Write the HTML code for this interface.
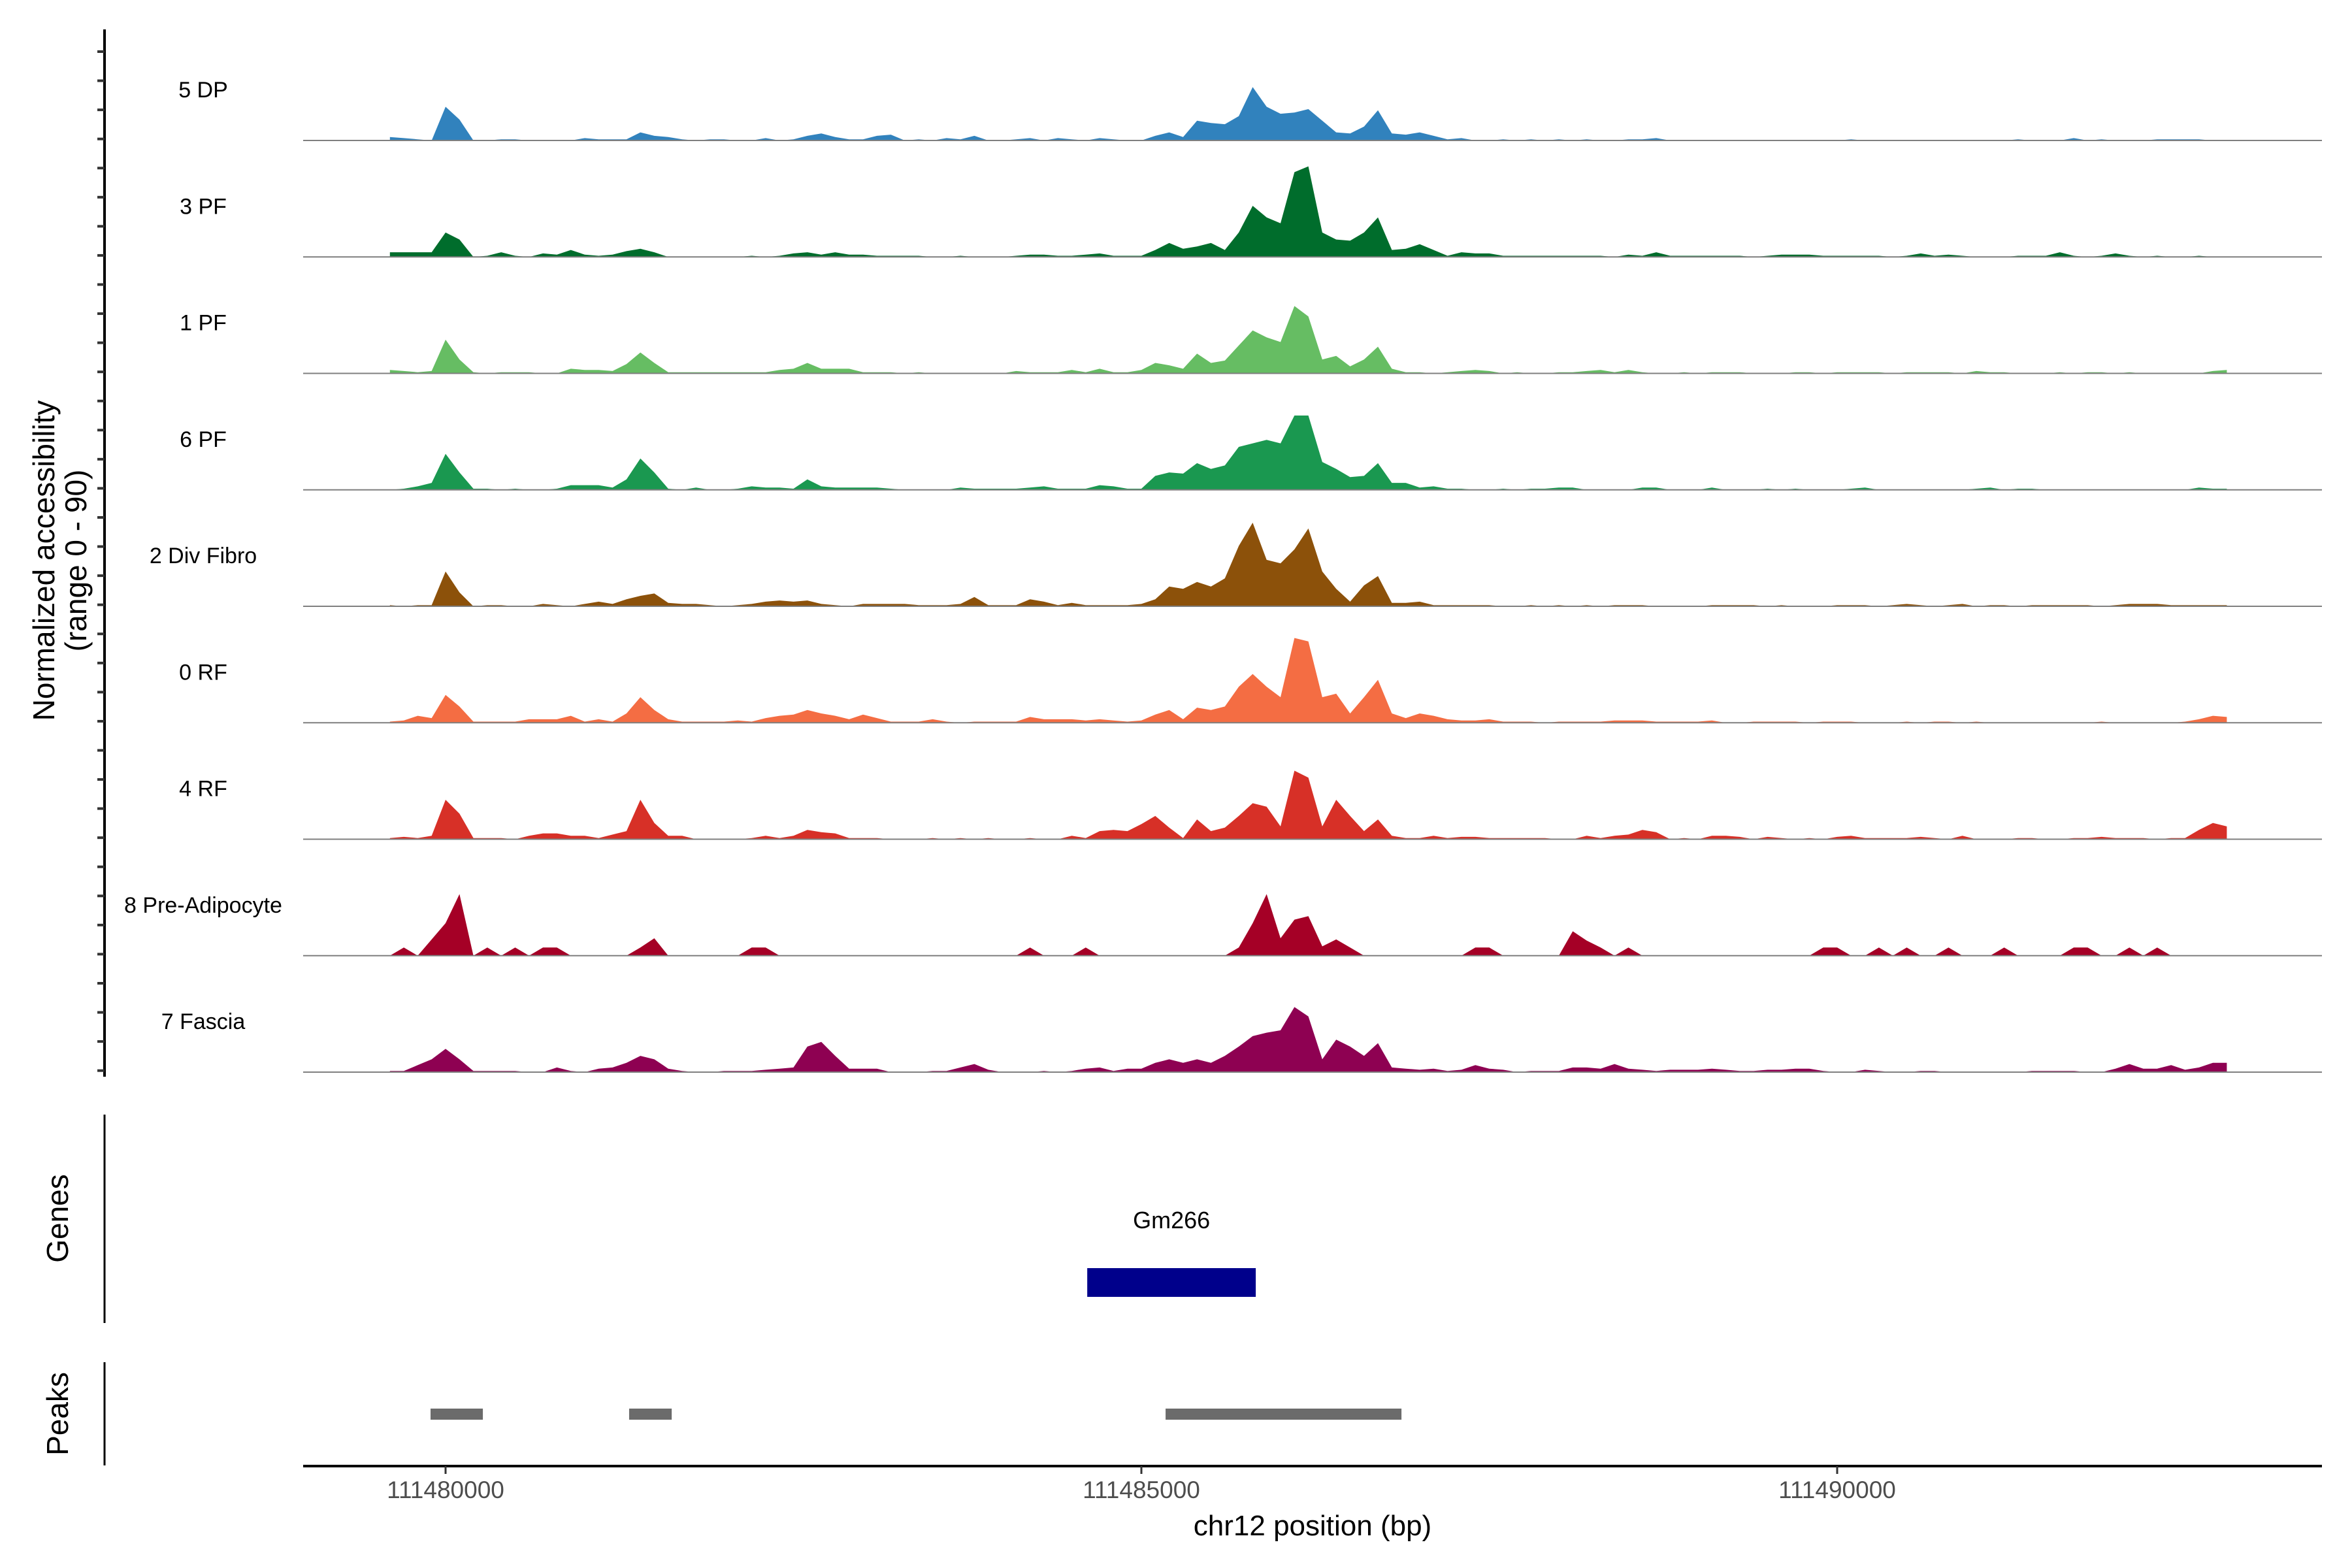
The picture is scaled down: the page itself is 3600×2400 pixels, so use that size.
<!DOCTYPE html>
<html><head><meta charset="utf-8"><style>
html,body{margin:0;padding:0;background:#fff;}
svg{display:block;font-family:"Liberation Sans",Arial,sans-serif;}
</style></head><body>
<svg id="chart" xmlns="http://www.w3.org/2000/svg" width="3600" height="2400" viewBox="0 0 3600 2400">
<rect width="3600" height="2400" fill="#fff"/>
<g id="tracks"></g>
<g id="yaxis"></g>
<text transform="translate(83,858) rotate(-90)" text-anchor="middle" font-size="46" fill="#000">Normalized accessibility</text>
<text transform="translate(132,858) rotate(-90)" text-anchor="middle" font-size="46" fill="#000">(range 0 - 90)</text>
<line x1="160" y1="1706" x2="160" y2="2025" stroke="#000" stroke-width="3"/>
<text transform="translate(104,1865) rotate(-90)" text-anchor="middle" font-size="46" fill="#000">Genes</text>
<line x1="160" y1="2085" x2="160" y2="2243" stroke="#000" stroke-width="3"/>
<text transform="translate(104,2164) rotate(-90)" text-anchor="middle" font-size="46" fill="#000">Peaks</text>
<g id="genes"></g>
<g id="peaks"></g>
<g id="xaxis"></g>
<text x="2009" y="2350" text-anchor="middle" font-size="44" fill="#000">chr12 position (bp)</text>
</svg>
<script>
const binStart = 111479600;
const binSize = 100;
const trackNames = ["5 DP","3 PF","1 PF","6 PF","2 Div Fibro","0 RF","4 RF","8 Pre-Adipocyte","7 Fascia"];
const trackColors = ["#3182bd","#006d2c","#66bd63","#1a9850","#8c510a","#f46d43","#d73027","#a50026","#8e0152"];
const vals5DP = [3,2,1,0,29,18,0,0,1,1,0,0,0,0,2,1,1,1,7,4,3,1,0,1,1,0,0,2,0,1,4,6,3,1,1,4,5,0,1,0,2,1,4,0,0,1,2,0,2,1,0,2,1,0,0,4,7,3,17,15,14,21,46,29,23,24,27,17,7,6,12,26,6,5,7,4,1,2,0,0,1,0,1,0,1,0,1,0,0,1,1,2,0,0,0,0,0,0,0,0,0,0,0,0,0,1,0,0,0,0,0,0,0,0,0,0,0,1,0,0,0,2,0,1,0,0,0,1,1,1,1,0];
const vals3PF = [4,4,4,4,21,15,0,1,4,1,0,3,2,6,2,1,2,5,7,4,0,0,0,0,0,0,1,0,1,3,4,2,4,2,2,1,1,1,1,0,0,1,0,0,0,1,2,2,1,1,2,3,1,1,1,6,12,7,9,12,6,21,44,34,29,73,78,21,15,14,21,34,6,7,11,6,1,4,3,3,1,1,1,1,1,1,1,1,0,2,1,4,1,1,1,1,1,1,0,1,2,2,2,1,1,1,1,1,0,1,3,1,2,1,0,0,0,1,1,1,4,1,0,1,3,1,0,1,0,0,1,0,0];
const vals1PF = [3,2,1,2,29,12,1,0,1,1,1,0,0,4,3,3,2,8,18,9,1,1,1,1,1,1,1,1,3,4,9,4,4,4,1,1,1,0,1,0,0,0,0,0,0,2,1,1,1,3,1,4,1,1,3,9,7,4,17,9,11,24,37,31,27,58,49,12,15,6,12,23,4,1,1,0,1,2,3,2,0,1,0,0,1,1,2,3,1,3,1,0,0,1,0,1,1,1,0,0,0,1,1,0,1,1,1,1,0,1,1,1,1,0,2,1,1,0,0,0,1,0,1,1,0,1,0,0,0,0,0,2,3];
const vals6PF = [0,1,3,6,31,15,1,1,0,1,0,0,1,4,4,4,2,9,27,15,1,0,2,0,0,1,3,2,2,1,9,3,2,2,2,2,1,0,0,0,0,2,1,1,1,1,2,3,1,1,1,4,3,1,1,12,15,14,23,18,21,37,40,43,40,64,64,24,18,11,12,23,6,6,2,3,1,1,0,0,1,0,1,1,2,2,0,0,0,0,2,2,0,0,0,2,0,0,0,1,0,1,0,0,0,1,2,0,0,0,0,0,0,0,1,2,0,1,1,0,0,0,0,0,0,0,0,0,0,0,2,1,1];
const vals2Div = [1,0,1,1,30,12,0,1,1,0,0,2,1,0,2,4,2,6,9,11,3,2,2,1,0,1,2,4,5,4,5,2,1,0,2,2,2,2,1,1,1,2,8,1,1,1,6,4,1,3,1,1,1,1,2,6,17,15,21,17,24,52,72,40,37,49,67,30,15,4,18,26,3,3,4,1,1,1,1,1,0,0,1,0,1,0,1,0,1,1,1,0,0,0,0,1,1,1,1,0,1,0,0,0,1,1,1,0,1,2,1,0,1,2,0,1,1,0,1,1,1,1,1,0,1,2,2,2,1,1,1,1,1];
const vals0RF = [1,2,6,4,24,14,1,1,1,1,3,3,3,6,1,3,1,8,22,11,3,1,1,1,1,2,1,4,6,7,11,8,6,3,7,4,1,1,1,3,1,0,1,1,1,1,5,3,3,3,2,3,2,1,2,7,11,3,13,11,14,31,42,31,22,73,70,22,25,8,22,37,8,4,8,6,3,2,2,3,1,1,1,0,1,1,1,1,2,2,2,1,1,1,1,2,0,0,1,1,1,1,0,1,1,1,0,0,0,1,0,1,1,0,1,0,0,0,0,0,0,0,0,1,0,0,0,0,0,1,3,6,5];
const vals4RF = [1,2,1,3,34,22,1,1,1,0,3,5,5,3,3,1,4,7,34,14,3,3,0,0,0,0,1,3,1,3,8,6,5,1,1,1,0,0,0,1,0,1,0,1,0,0,1,0,0,3,1,7,8,7,13,20,10,1,17,7,10,20,31,28,11,59,53,11,34,20,7,17,3,1,1,3,1,2,2,1,1,1,1,1,0,0,3,1,3,4,8,6,0,1,0,3,3,2,0,2,1,0,1,0,2,3,1,1,1,1,2,1,0,3,0,0,0,1,1,0,0,1,1,2,1,1,1,0,1,1,8,14,11];
const valsPreAd = [0,7,0,14,28,53,0,7,0,7,0,7,7,0,0,0,0,0,7,15,0,0,0,0,0,0,7,7,0,0,0,0,0,0,0,0,0,0,0,0,0,0,0,0,0,0,7,0,0,0,7,0,0,0,0,0,0,0,0,0,0,7,28,53,15,31,34,8,14,7,0,0,0,0,0,0,0,0,7,7,0,0,0,0,0,21,13,7,0,7,0,0,0,0,0,0,0,0,0,0,0,0,0,7,7,0,0,7,0,7,0,0,7,0,0,0,7,0,0,0,0,7,7,0,0,7,0,7,0,0,0,0,0];
const valsFascia = [1,1,6,11,20,11,1,1,1,1,0,0,4,1,0,3,4,8,14,11,3,1,0,0,1,1,1,2,3,4,22,26,14,3,3,3,0,0,0,1,1,4,7,2,0,0,0,1,0,1,3,4,1,3,3,8,11,8,11,8,14,22,31,34,36,56,48,11,28,22,14,25,4,3,2,3,1,2,6,3,2,0,1,1,1,4,4,3,7,3,2,1,2,2,2,3,2,1,1,2,2,3,3,1,0,0,2,1,0,0,1,1,0,0,0,0,0,0,1,1,1,1,0,0,3,7,3,3,6,2,4,8,8];
const trackValues = [vals5DP,vals3PF,vals1PF,vals6PF,vals2Div,vals0RF,vals4RF,valsPreAd,valsFascia];
const xTicks = [111480000,111485000,111490000];
const xTickLabels = ["111480000","111485000","111490000"];
const geneStarts = [111484611];
const geneEnds = [111485822];
const geneNames = ["Gm266"];
const peakStarts = [111479892,111481319,111485174];
const peakEnds = [111480268,111481625,111486869];

const NS = "http://www.w3.org/2000/svg";
function xScale(bp){ return 682 + (bp - 111480000) * (1065/5000); }
const trackTop0 = 215, trackStep = 178.25, pxPerUnit = 160/90;
const panelLeft = 464, panelRight = 3554;
function yScale(v, t){ return trackTop0 + t*trackStep - v*pxPerUnit; }
function mk(tag, attrs, parent){ const e=document.createElementNS(NS,tag); for(const k in attrs) e.setAttribute(k,attrs[k]); parent.appendChild(e); return e; }

const tracks = document.getElementById('tracks');
trackValues.forEach((vals,t)=>{
  const base = yScale(0,t);
  let d = "M" + xScale(binStart).toFixed(1) + "," + base.toFixed(1);
  vals.forEach((v,i)=>{ d += " L" + xScale(binStart + i*binSize).toFixed(1) + "," + yScale(v,t).toFixed(1); });
  d += " L" + xScale(binStart + (vals.length-1)*binSize).toFixed(1) + "," + base.toFixed(1) + " Z";
  const p = mk('path',{d:d, fill:trackColors[t]}, tracks);
  
  
  const bl = mk('line',{x1:panelLeft,x2:panelRight,y1:base,y2:base,stroke:"#7f7f7f","stroke-width":2}, tracks);
  
  
  const lab = mk('text',{x:311,y:base-66,"text-anchor":"middle","font-size":34,fill:"#000"}, tracks);
  lab.textContent = trackNames[t];
  
  
});

const yaxis = document.getElementById('yaxis');
const ya = mk('line',{x1:160,x2:160,y1:45,y2:1648,stroke:"#000","stroke-width":4}, yaxis);


for(let k=0;k<36;k++){
  const y = 79 + k*trackStep/4;
  const tk = mk('line',{x1:149,x2:160,y1:y,y2:y,stroke:"#333","stroke-width":4}, yaxis);
  
  
}

const genes = document.getElementById('genes');
geneStarts.forEach((s,i)=>{
  const r = mk('rect',{x:xScale(s),y:1941,width:xScale(geneEnds[i])-xScale(s),height:44,fill:"#00008b"}, genes);
  
  
  const tx = mk('text',{x:(xScale(s)+xScale(geneEnds[i]))/2,y:1880,"text-anchor":"middle","font-size":36,fill:"#000"}, genes);
  tx.textContent = geneNames[i];
  
  
});

const peaks = document.getElementById('peaks');
peakStarts.forEach((s,i)=>{
  const r = mk('rect',{x:xScale(s),y:2156,width:xScale(peakEnds[i])-xScale(s),height:17,fill:"#6b6b6b"}, peaks);
  
  
});

const xaxis = document.getElementById('xaxis');
const xl = mk('line',{x1:panelLeft,x2:panelRight,y1:2244,y2:2244,stroke:"#000","stroke-width":4}, xaxis);


xTicks.forEach((b,i)=>{
  const x = xScale(b);
  const tk = mk('line',{x1:x,x2:x,y1:2244,y2:2256,stroke:"#333","stroke-width":3}, xaxis);
  
  
  const tl = mk('text',{x:x,y:2293,"text-anchor":"middle","font-size":37,fill:"#4d4d4d"}, xaxis);
  tl.textContent = xTickLabels[i];
  
  
});
</script>
</body></html>
